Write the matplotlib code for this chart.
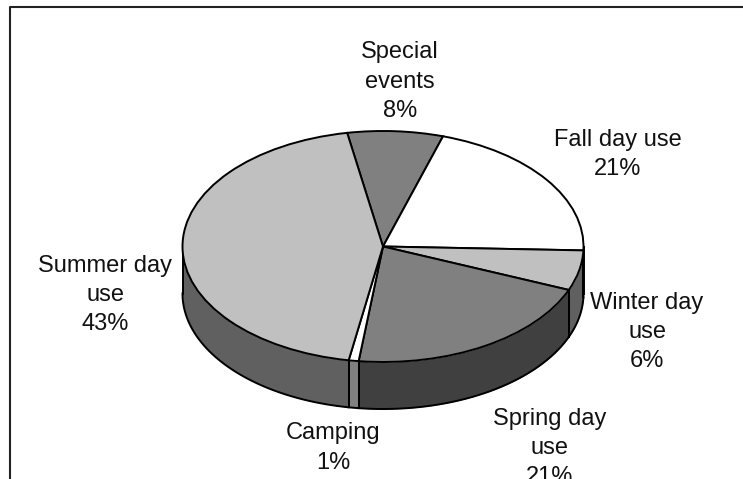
import numpy as np
import matplotlib
matplotlib.use('Agg')
import matplotlib.pyplot as plt

plt.rcParams['font.family'] = ['Liberation Sans', 'DejaVu Sans']

categories = ['Special\nevents', 'Fall day use', 'Winter day\nuse', 'Spring day\nuse', 'Camping', 'Summer day\nuse']
slice_share = [7.7, 20.7, 5.6, 20.8, 0.8, 44.4]
pct_labels = ['8%', '21%', '6%', '21%', '1%', '43%']

top_colors = ['#808080', '#ffffff', '#c0c0c0', '#808080', '#ffffff', '#c0c0c0']
side_colors = ['#404040', '#808080', '#606060', '#404040', '#808080', '#606060']

# Label centres in pixels
label_pos = [(400, 81.5), (618, 154.5), (647, 332), (550, 448), (333, 448), (105, 295)]

W, H = 743, 479
cx, cy = 383, 246.5
rx, ry = 200.5, 115.5
depth = 47 / ry
lw = 1.4

fig = plt.figure(figsize=(W / 100, H / 100), dpi=100)
ax = fig.add_axes([0, 0, 1, 1])

# Top of the pie, clockwise from the top of the ellipse
start_clock = 349.7
wedges, _ = ax.pie(slice_share, colors=top_colors, startangle=90 - start_clock, counterclock=False,
                   wedgeprops={'edgecolor': 'black', 'linewidth': lw}, radius=1)
for w in wedges:
    w.set_zorder(3)

ax.set_aspect('auto')
ax.set_xlim(-cx / rx, (W - cx) / rx)
ax.set_ylim(-(H - cy) / ry, cy / ry)

# Rim of the pie, only the front half (90 to 270 clockwise) can be seen
edges = start_clock + np.cumsum([0] + slice_share) * 3.6
for i in range(len(slice_share)):
    for turn in (0, 360):
        a0 = max(edges[i] - turn, 90)
        a1 = min(edges[i + 1] - turn, 270)
        if a1 <= a0:
            continue
        t = np.radians(np.linspace(a0, a1, 80))
        x = np.sin(t)
        y = np.cos(t)
        ax.fill_between(x, y, y - depth, color=side_colors[i], lw=0, zorder=1)
        ax.plot(x, y - depth, color='black', lw=lw, zorder=2)
        ax.plot([x[0], x[0]], [y[0], y[0] - depth], color='black', lw=lw, zorder=2)
        ax.plot([x[-1], x[-1]], [y[-1], y[-1] - depth], color='black', lw=lw, zorder=2)

# Labels
for name, pct, (px, py) in zip(categories, pct_labels, label_pos):
    fig.text(px / W, 1 - py / H, name + '\n' + pct, ha='center', va='center',
             fontsize=17, color='#111111', linespacing=1.44)

# Chart border, only left and top show in the picture
fig.add_artist(plt.Line2D([10 / W, 10 / W, 1], [0, 1 - 7 / H, 1 - 7 / H], color='#222222', lw=1.5))

fig.savefig('out.png', dpi=100)
